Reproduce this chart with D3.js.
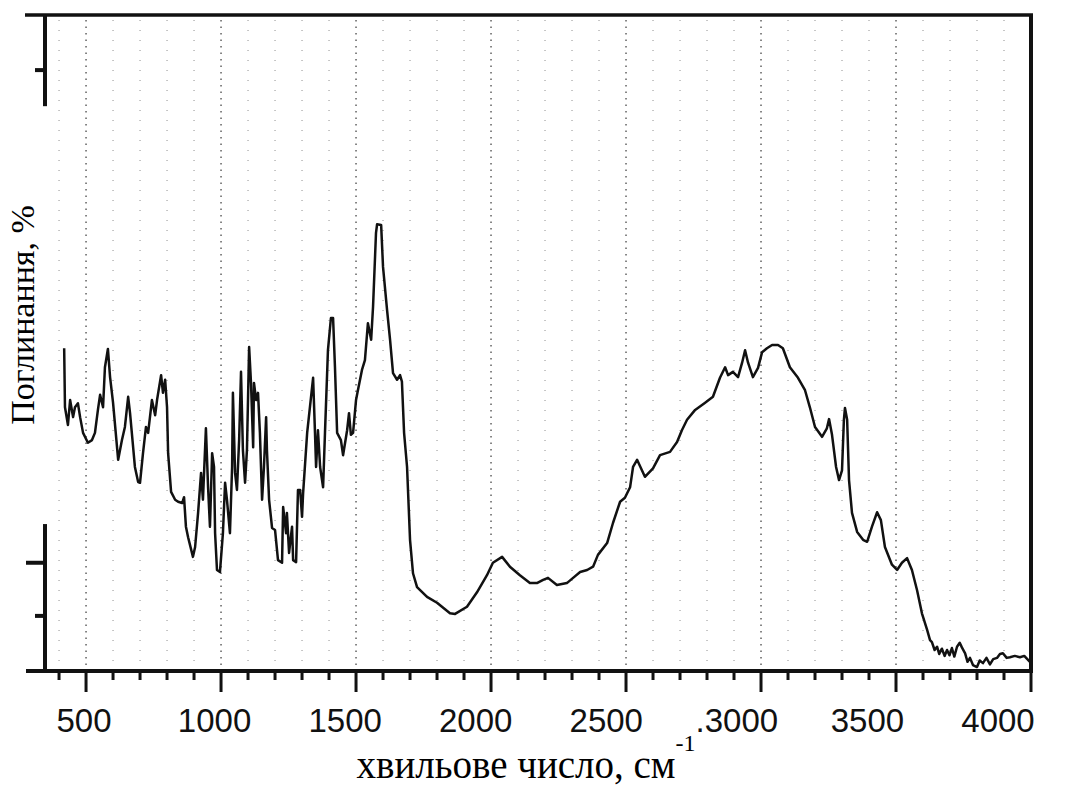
<!DOCTYPE html>
<html>
<head>
<meta charset="utf-8">
<script src="https://cdn.jsdelivr.net/npm/d3@7"></script>
<style>
  body { margin: 0; background: #fff; }
  svg { display: block; }
</style>
</head>
<body>
<svg id="chart" width="1078" height="803"></svg>
<script>
// IR absorption spectrum: [wavenumber cm^-1, absorbance %]
const spectrum = [
  [419,49.2],[422,40.2],[433,37.5],[441,41.3],[452,38.7],[459,40.2],[470,40.8],[478,38.7],
  [489,36.3],[507,34.8],[522,35.2],[533,36.3],[544,39.8],[552,42.1],[563,40.2],[570,46.3],
  [581,49.1],[589,44.8],[600,40.9],[619,32.2],[633,35.2],[644,37.2],[656,41.8],[663,39.3],
  [681,31.1],[693,28.8],[700,28.7],[711,33.2],[722,37.2],[730,36.3],[744,41.3],[756,39.0],
  [763,41.3],[778,45.1],[785,42.4],[793,44.4],[800,40.2],[804,33.2],[815,27.3],[830,26.1],
  [841,25.8],[856,25.6],[863,26.5],[870,22.0],[878,20.4],[896,17.4],[904,18.9],[915,24.1],
  [926,30.2],[933,26.1],[944,37.0],[952,28.0],[959,22.0],[967,33.2],[974,31.1],[978,21.0],
  [985,15.4],[996,15.1],[1007,21.0],[1015,28.7],[1022,26.1],[1033,21.0],[1041,31.1],[1044,42.4],
  [1052,30.2],[1059,27.6],[1067,35.2],[1074,45.6],[1081,33.7],[1089,28.7],[1096,33.7],[1104,49.4],
  [1111,43.9],[1119,34.1],[1122,43.9],[1130,41.3],[1137,42.4],[1144,36.3],[1152,26.1],[1159,31.1],
  [1167,38.7],[1170,33.7],[1178,26.1],[1189,21.8],[1200,21.5],[1211,16.9],[1226,16.5],[1230,25.0],
  [1241,21.0],[1244,24.1],[1252,18.0],[1263,22.0],[1267,16.9],[1278,16.6],[1285,27.6],
  [1293,27.6],[1300,23.5],[1304,27.1],[1319,36.3],[1341,44.7],[1348,36.3],[1352,31.1],[1359,36.7],
  [1367,31.1],[1378,28.0],[1385,36.3],[1396,48.9],[1407,53.8],[1415,53.8],[1422,46.3],[1430,36.3],
  [1444,35.2],[1452,32.9],[1467,36.7],[1474,39.3],[1481,36.0],[1489,36.3],[1500,41.3],[1507,42.8],
  [1522,45.9],[1533,47.4],[1544,53.0],[1556,50.5],[1563,55.5],[1574,66.8],[1578,68.1],[1593,68.0],
  [1600,61.6],[1615,55.0],[1626,50.5],[1637,45.4],[1652,44.4],[1663,45.1],[1670,44.1],[1678,36.3],
  [1689,31.1],[1700,20.0],[1711,14.9],[1726,12.8],[1763,11.3],[1800,10.4],[1848,8.8],[1867,8.7],
  [1911,9.8],[1948,12.0],[1985,14.6],[2007,16.5],[2041,17.4],[2070,15.9],[2107,14.6],[2144,13.4],
  [2170,13.4],[2193,13.9],[2211,14.2],[2244,13.1],[2281,13.4],[2304,14.2],[2330,15.1],[2356,15.4],
  [2378,15.9],[2396,17.7],[2430,19.5],[2452,22.6],[2478,25.8],[2496,26.4],[2515,28.0],[2526,31.1],
  [2541,32.2],[2570,29.6],[2600,30.9],[2626,32.9],[2663,33.4],[2689,34.9],[2707,36.7],[2726,38.3],
  [2756,39.8],[2793,40.9],[2822,41.8],[2848,44.7],[2867,46.3],[2878,45.1],[2896,45.6],[2915,44.8],
  [2930,47.0],[2941,48.9],[2952,47.0],[2970,44.8],[2989,46.2],[3004,48.6],[3022,49.2],[3041,49.7],
  [3063,49.7],[3081,49.2],[3107,46.3],[3137,44.7],[3163,42.8],[3181,40.2],[3200,37.2],[3226,35.7],
  [3244,37.0],[3252,38.4],[3263,36.0],[3278,31.1],[3289,29.1],[3300,30.6],[3307,38.3],[3311,40.1],
  [3319,38.3],[3326,29.1],[3337,24.1],[3356,21.2],[3378,20.0],[3393,19.7],[3411,22.0],[3430,24.2],
  [3444,23.0],[3459,18.9],[3485,16.2],[3504,15.4],[3522,16.5],[3541,17.2],[3559,15.4],[3578,12.3],
  [3596,8.8],[3615,6.3],[3626,4.7],[3633,4.4],[3643,3.2],[3652,3.7],[3660,2.6],[3670,3.4],
  [3680,2.3],[3689,3.2],[3698,2.4],[3707,3.5],[3716,2.2],[3726,3.7],[3736,4.3],[3744,3.6],
  [3756,2.7],[3765,1.4],[3774,2.0],[3785,0.9],[3800,0.6],[3810,1.6],[3822,1.2],[3835,2.0],
  [3848,1.0],[3860,1.8],[3874,2.0],[3885,2.6],[3896,2.7],[3910,2.0],[3922,2.1],[3940,2.3],
  [3959,2.1],[3975,2.3],[3996,1.4]
];

// Axis ticks and labels
const xTickValues = d3.range(400, 4001, 100);
const xLabelValues = [500, 1000, 1500, 2000, 2500, 3000, 3500, 4000];
const xLabelText = ["500", "1000", "1500", "2000", "2500", ".3000", "3500", "4000"];
const yTickValues = [8.4, 16.5, 91.6];
const yMajorTicks = [16.5];
const yAxisSpans = [[86.1, 100], [0, 22.4]];

const xTitle = "хвильове число, см";
const xTitleSup = "-1";
const yTitle = "Поглинання, %";

const svg = d3.select("#chart");
const box = { left: 45, right: 1031, top: 15, bottom: 671 };

const x = d3.scaleLinear().domain([348, 4000]).range([box.left, box.right]);
const xLabelPos = d3.scaleLinear().domain([500, 4000]).range([84, 998]);
const y = d3.scaleLinear().domain([0, 100]).range([box.bottom, box.top]);

// Dotted vertical grid
svg.append("g")
  .selectAll("line")
  .data(xTickValues.filter(d => d < 4000))
  .join("line")
  .attr("x1", d => x(d)).attr("x2", d => x(d))
  .attr("y1", box.top + 5).attr("y2", box.bottom - 3)
  .attr("stroke", d => d % 500 === 0 ? "#555" : "#999")
  .attr("stroke-width", d => d % 500 === 0 ? 1.4 : 1.1)
  .attr("stroke-dasharray", d => d % 500 === 0 ? "1.5 5" : "1 9");

// Spectrum trace
const line = d3.line().x(d => x(d[0])).y(d => y(d[1]));
svg.append("path")
  .datum(spectrum)
  .attr("d", line)
  .attr("fill", "none")
  .attr("stroke", "#111")
  .attr("stroke-width", 2.5)
  .attr("stroke-linejoin", "round");

// Frame: top, right, bottom
const frame = svg.append("g").attr("stroke", "#111").attr("stroke-width", 4).attr("fill", "none");
frame.append("line").attr("x1", 25).attr("x2", box.right + 2).attr("y1", box.top).attr("y2", box.top).attr("stroke-width", 3.5);
frame.append("line").attr("x1", box.right).attr("x2", box.right).attr("y1", box.top - 1).attr("y2", box.bottom + 2);
frame.append("line").attr("x1", 26).attr("x2", box.right + 2).attr("y1", box.bottom).attr("y2", box.bottom);

// Broken left axis
frame.selectAll(".yspan")
  .data(yAxisSpans)
  .join("line")
  .attr("x1", box.left).attr("x2", box.left)
  .attr("y1", d => y(d[0])).attr("y2", d => y(d[1]));

frame.selectAll(".ytick")
  .data(yTickValues)
  .join("line")
  .attr("x1", d => yMajorTicks.includes(d) ? 26 : 35).attr("x2", box.left)
  .attr("y1", d => y(d)).attr("y2", d => y(d));

// X ticks
frame.selectAll(".xtick")
  .data(xTickValues)
  .join("line")
  .attr("stroke-width", 3)
  .attr("x1", d => x(d)).attr("x2", d => x(d))
  .attr("y1", box.bottom).attr("y2", d => box.bottom + (d % 500 === 0 ? 21 : 9));

// X tick labels
svg.append("g")
  .selectAll("text")
  .data(xLabelValues)
  .join("text")
  .attr("x", d => xLabelPos(d))
  .attr("y", 732)
  .attr("text-anchor", "middle")
  .attr("font-family", "'Liberation Sans', Arial, sans-serif")
  .attr("font-size", 33)
  .attr("fill", "#111")
  .text((d, i) => xLabelText[i]);

// Axis titles
const xt = svg.append("text")
  .attr("x", 526).attr("y", 778)
  .attr("text-anchor", "middle")
  .attr("font-family", "'Liberation Serif', 'Times New Roman', serif")
  .attr("font-size", 39)
  .attr("fill", "#000");
xt.append("tspan").text(xTitle);
xt.append("tspan").attr("dy", -27).attr("font-size", 24).text(xTitleSup);

svg.append("text")
  .attr("transform", "translate(34,315) rotate(-90)")
  .attr("text-anchor", "middle")
  .attr("font-family", "'Liberation Serif', 'Times New Roman', serif")
  .attr("font-size", 34)
  .attr("fill", "#000")
  .text(yTitle);
</script>
</body>
</html>
